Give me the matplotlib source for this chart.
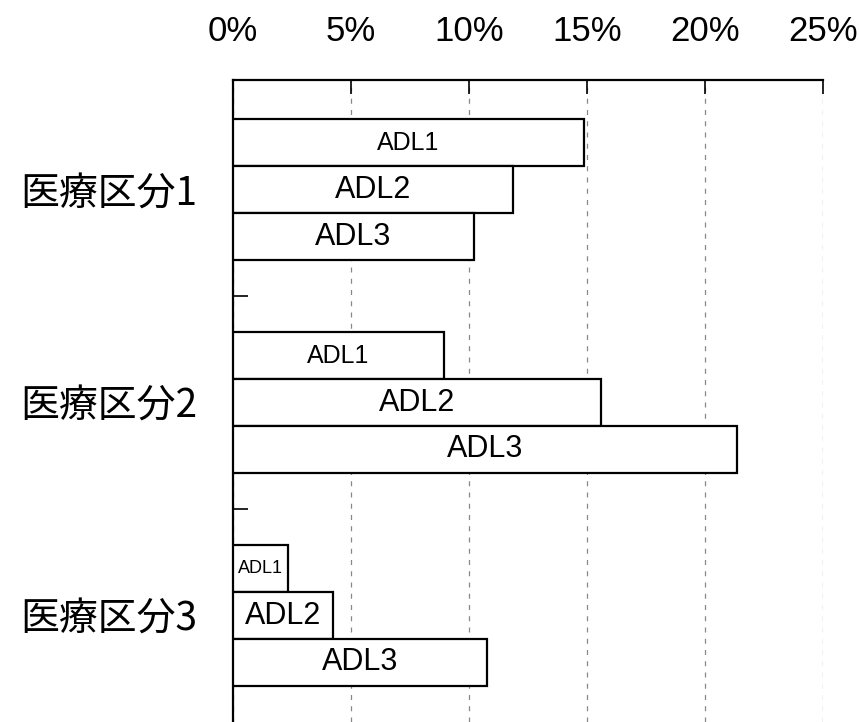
import numpy as np
import matplotlib.pyplot as plt

# data
groups = ['医療区分1', '医療区分2', '医療区分3']
adl_labels = ['ADL1', 'ADL2', 'ADL3']
kubun1 = [14.87, 11.88, 10.21]
kubun2 = [8.94, 15.60, 21.36]
kubun3 = [2.35, 4.24, 10.76]
xticks = [0, 5, 10, 15, 20, 25]

values = [kubun1, kubun2, kubun3]
# label font size per bar (small bars get smaller text)
label_sizes = [[18, 22, 22], [18, 22, 22], [13, 22, 22]]

fig = plt.figure(figsize=(8.59, 7.22), dpi=100)
ax = fig.add_axes([233 / 859, 0.0, 590 / 859, 1 - 80 / 722])

bar_h = 0.22
for g, vals in enumerate(values):
    center = g + 0.5
    for i, v in enumerate(vals):
        y = center + (i - 1) * bar_h
        ax.barh(y, v, height=bar_h, color='white', edgecolor='black',
                linewidth=1.6, zorder=3)
        ax.text(v / 2, y, adl_labels[i], ha='center', va='center',
                fontsize=label_sizes[g][i], family=['Liberation Sans', 'DejaVu Sans'],
                zorder=4)

ax.set_xlim(0, 25)
ax.set_ylim(3.0, -0.015)

ax.xaxis.tick_top()
ax.set_xticks(xticks)
ax.set_xticklabels([f'{t}%' for t in xticks],
                   family=['Liberation Sans', 'DejaVu Sans'], fontsize=25)
ax.tick_params(axis='x', direction='in', length=10, width=1.2, pad=23)
ax.grid(axis='x', color='#888888', linestyle=(0, (4, 5)), linewidth=0.9, zorder=1)

# group boundaries get short inward ticks, names sit at group centres
ax.set_yticks([1, 2])
ax.set_yticklabels([])
ax.set_yticks([0.5, 1.5, 2.5], minor=True)
ax.set_yticklabels(groups, minor=True, family=['Noto Sans CJK JP', 'DejaVu Sans'],
                   fontsize=28)
ax.tick_params(axis='y', which='major', direction='in', length=11, width=1.2)
ax.tick_params(axis='y', which='minor', length=0, pad=26)

for side in ['right', 'bottom']:
    ax.spines[side].set_visible(False)
ax.spines['top'].set_linewidth(1.6)
ax.spines['left'].set_linewidth(1.6)

fig.savefig('out.png', dpi=100)
